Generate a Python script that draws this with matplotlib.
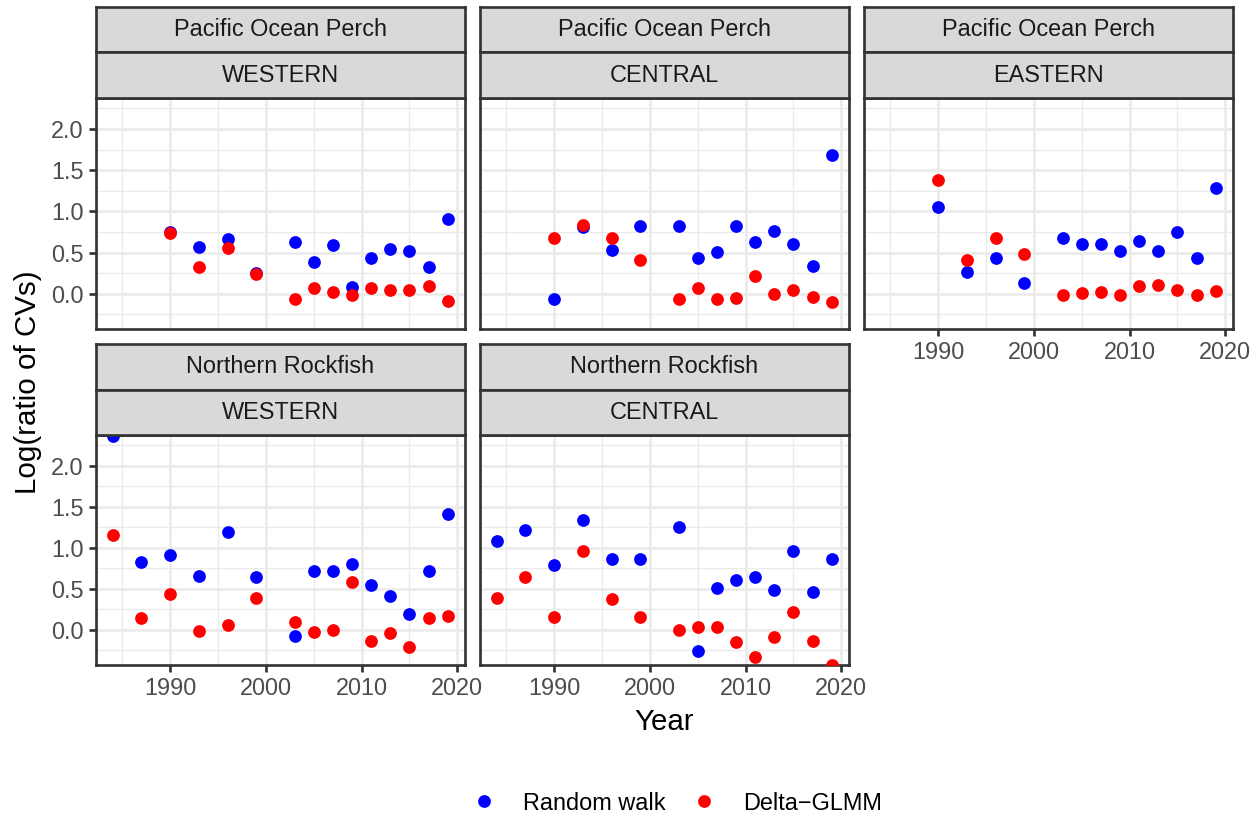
import numpy as np
import matplotlib.pyplot as plt
from matplotlib.lines import Line2D

plt.rcParams['font.family'] = ['Liberation Sans', 'DejaVu Sans']

# survey years
years_nr = [1984, 1987, 1990, 1993, 1996, 1999, 2003, 2005, 2007, 2009, 2011, 2013, 2015, 2017, 2019]
years_pop = years_nr[2:]

# log(ratio of CVs), random walk vs delta-GLMM
pop_w_rw = [0.75, 0.57, 0.66, 0.25, 0.63, 0.38, 0.59, 0.08, 0.44, 0.54, 0.52, 0.32, 0.91]
pop_w_dg = [0.74, 0.32, 0.55, 0.24, -0.06, 0.07, 0.02, -0.02, 0.07, 0.05, 0.05, 0.09, -0.09]
pop_c_rw = [-0.06, 0.81, 0.53, 0.82, 0.82, 0.44, 0.51, 0.82, 0.63, 0.76, 0.61, 0.34, 1.68]
pop_c_dg = [0.68, 0.83, 0.68, 0.41, -0.06, 0.07, -0.06, -0.05, 0.21, 0.00, 0.05, -0.04, -0.10]
pop_e_rw = [1.05, 0.26, 0.44, 0.13, 0.68, 0.61, 0.61, 0.52, 0.64, 0.52, 0.75, 0.44, 1.29]
pop_e_dg = [1.38, 0.41, 0.68, 0.48, -0.02, 0.01, 0.02, -0.02, 0.09, 0.11, 0.05, -0.02, 0.03]
nr_w_rw = [2.37, 0.83, 0.92, 0.66, 1.20, 0.64, -0.07, 0.72, 0.72, 0.80, 0.55, 0.42, 0.20, 0.72, 1.41]
nr_w_dg = [1.16, 0.15, 0.44, -0.01, 0.06, 0.39, 0.10, -0.03, 0.00, 0.59, -0.14, -0.04, -0.21, 0.14, 0.17]
nr_c_rw = [1.09, 1.22, 0.79, 1.34, 0.87, 0.87, 1.26, -0.26, 0.51, 0.61, 0.64, 0.49, 0.96, 0.46, 0.87]
nr_c_dg = [0.39, 0.65, 0.16, 0.96, 0.38, 0.16, 0.00, 0.03, 0.04, -0.15, -0.33, -0.09, 0.22, -0.13, -0.43]

species = ['Pacific Ocean Perch'] * 3 + ['Northern Rockfish'] * 2
regions = ['WESTERN', 'CENTRAL', 'EASTERN', 'WESTERN', 'CENTRAL']
panel_years = [years_pop] * 3 + [years_nr] * 2
rw_values = [pop_w_rw, pop_c_rw, pop_e_rw, nr_w_rw, nr_c_rw]
dg_values = [pop_w_dg, pop_c_dg, pop_e_dg, nr_w_dg, nr_c_dg]

# theme_bw-ish colours
border = '#333333'
grid = '#EBEBEB'
strip_bg = '#D9D9D9'
lw_major = 1.07
fs_small = 9.4
fs_title = 11.8

W, H = 1260, 818
fig = plt.figure(figsize=(W / 180, H / 180), dpi=180)


def px_axes(left, top, right, bottom):
    return fig.add_axes([left / W, 1 - bottom / H, (right - left) / W, (bottom - top) / H])


col_left = [96, 480, 864]
panel_w = 368.5
# strip top, strip middle, panel top, panel bottom
rows = [(7, 52, 98, 329), (344, 390, 435, 665)]

for i in range(5):
    r, c = i // 3, i % 3
    s_top, s_mid, p_top, p_bot = rows[r]
    left = col_left[c]
    ax = px_axes(left, p_top, left + panel_w, p_bot)
    ax.scatter(panel_years[i], rw_values[i], s=26, c='blue', linewidths=0, zorder=3)
    ax.scatter(panel_years[i], dg_values[i], s=26, c='red', linewidths=0, zorder=3)
    ax.set_xlim(1982.25, 2020.75)
    ax.set_ylim(-0.4275, 2.3775)
    ax.set_xticks([1990, 2000, 2010, 2020])
    ax.set_xticks([1985, 1995, 2005, 2015], minor=True)
    ax.set_yticks([0, 0.5, 1.0, 1.5, 2.0])
    ax.set_yticklabels(['0.0', '0.5', '1.0', '1.5', '2.0'])
    ax.set_yticks(np.arange(-0.25, 2.3, 0.5), minor=True)
    ax.grid(which='major', color=grid, lw=lw_major)
    ax.grid(which='minor', color=grid, lw=lw_major / 2)
    ax.set_axisbelow(True)
    for sp in ax.spines.values():
        sp.set_color(border)
        sp.set_linewidth(lw_major)
    ax.tick_params(which='major', length=2.75, width=lw_major, color=border,
                   labelsize=fs_small, labelcolor='#4D4D4D', pad=2.2)
    ax.tick_params(which='minor', length=0)
    if i in (0, 1):
        ax.tick_params(axis='x', which='both', bottom=False, labelbottom=False)
    if c > 0:
        ax.tick_params(axis='y', which='both', left=False, labelleft=False)

    # two-level facet strips
    for (t, b), label in [((s_top, s_mid), species[i]), ((s_mid, p_top), regions[i])]:
        sax = px_axes(left, t, left + panel_w, b)
        sax.set_facecolor(strip_bg)
        sax.set_xticks([])
        sax.set_yticks([])
        for sp in sax.spines.values():
            sp.set_color(border)
            sp.set_linewidth(lw_major)
        sax.text(0.5, 0.5, label, ha='center', va='center', fontsize=fs_small,
                 color='#1A1A1A', transform=sax.transAxes)

fig.text(664 / W, 1 - 730 / H, 'Year', ha='center', va='baseline', fontsize=fs_title)
fig.text(28 / W, 1 - 382 / H, 'Log(ratio of CVs)', ha='center', va='center',
         rotation=90, fontsize=fs_title)

handles = [Line2D([], [], ls='none', marker='o', ms=5.1, mew=0, color='blue'),
           Line2D([], [], ls='none', marker='o', ms=5.1, mew=0, color='red')]
fig.legend(handles, ['Random walk', 'Delta\u2212GLMM'], loc='center',
           bbox_to_anchor=(677 / W, 1 - 803 / H), ncol=2, frameon=False, fontsize=fs_small,
           handlelength=1.0, handletextpad=1.15, columnspacing=1.15)

fig.savefig('out.png', dpi=180)
